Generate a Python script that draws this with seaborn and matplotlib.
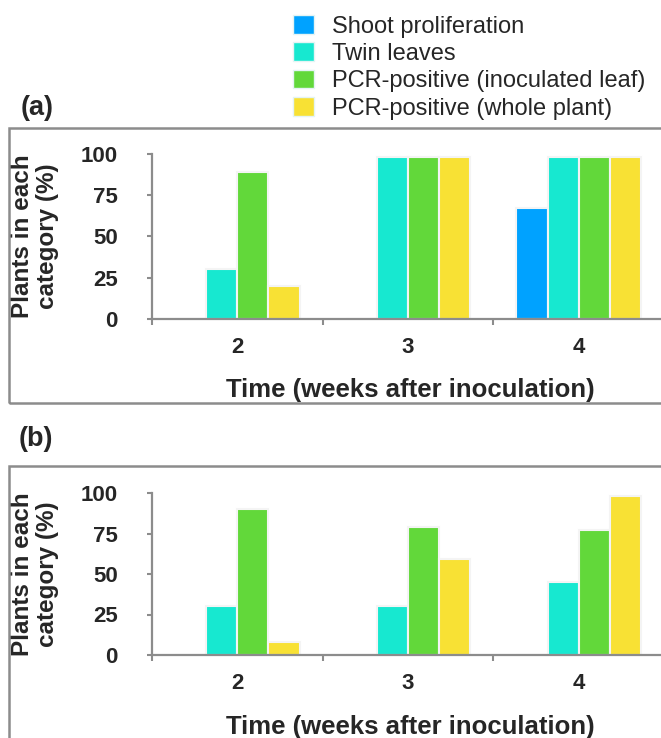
import pandas as pd
import seaborn as sns
import matplotlib.pyplot as plt
from matplotlib.patches import Patch, Rectangle

# data
weeks = ['2', '3', '4']
categories = ['Shoot proliferation', 'Twin leaves',
              'PCR-positive (inoculated leaf)', 'PCR-positive (whole plant)']
colors = ['#00a2ff', '#17e8d0', '#62d83a', '#f8e134']

# panel (a)
a_shoot = [0, 0, 67]
a_twin = [30, 98, 98]
a_pcr_leaf = [89, 98, 98]
a_pcr_plant = [20, 98, 98]

# panel (b)
b_shoot = [0, 0, 0]
b_twin = [30, 30, 45]
b_pcr_leaf = [90, 79, 77]
b_pcr_plant = [8, 59, 98]


def to_long(series):
    rows = []
    for cat, vals in zip(categories, series):
        for w, v in zip(weeks, vals):
            rows.append({'week': w, 'category': cat, 'pct': v})
    return pd.DataFrame(rows)


df_a = to_long([a_shoot, a_twin, a_pcr_leaf, a_pcr_plant])
df_b = to_long([b_shoot, b_twin, b_pcr_leaf, b_pcr_plant])

sns.set_theme(style='white')
plt.rcParams['font.family'] = ['Liberation Sans', 'DejaVu Sans']

W, H = 661, 738
fig = plt.figure(figsize=(W / 100, H / 100), dpi=100)
ax_a = fig.add_axes([152 / W, 1 - 319 / H, 512 / W, 165 / H])
ax_b = fig.add_axes([152 / W, 1 - 655 / H, 512 / W, 162 / H])

pal = dict(zip(categories, colors))
grey = '#8c8c8c'

for ax, df, xl_y in [(ax_a, df_a, -0.355), (ax_b, df_b, -0.37)]:
    sns.barplot(data=df, x='week', y='pct', hue='category', order=weeks,
                hue_order=categories, palette=pal, saturation=1, width=0.73,
                edgecolor='#f4f4f4', linewidth=1.5, errorbar=None,
                legend=False, ax=ax)
    ax.set_ylim(0, 100)
    ax.set_xlim(-0.5, 2.5)
    ax.set_yticks([0, 25, 50, 75, 100])
    ax.set_yticklabels(['0', '25', '50', '75', '100'], fontweight='bold')
    ax.set_xticks([0, 1, 2])
    ax.set_xticklabels(weeks, fontweight='bold')
    ax.set_xticks([-0.5, 0.5, 1.5, 2.5], minor=True)
    ax.tick_params(axis='y', left=True, length=3.6, width=1.5, color=grey,
                   pad=21, labelsize=16)
    ax.tick_params(axis='x', which='major', bottom=True, length=0, pad=13,
                   labelsize=16)
    ax.tick_params(axis='x', which='minor', bottom=True, length=4.3,
                   width=1.5, color=grey)
    for s in ['top', 'right']:
        ax.spines[s].set_visible(False)
    for s in ['left', 'bottom']:
        ax.spines[s].set_color(grey)
        ax.spines[s].set_linewidth(1.6)
    ax.set_xlabel('Time (weeks after inoculation)', fontsize=18.5,
                  fontweight='bold')
    ax.xaxis.set_label_coords(0.504, xl_y)
    ax.set_ylabel('Plants in each\ncategory (%)', fontsize=17.5,
                  fontweight='bold', linespacing=1.1, va='center')
    ax.yaxis.set_label_coords(-0.2285, 0.5)

# panel boxes
fig.add_artist(Rectangle((9 / W, 1 - 403 / H), 700 / W, 275 / H,
                         transform=fig.transFigure, fill=False,
                         edgecolor=grey, linewidth=1.8))
fig.add_artist(Rectangle((9 / W, -0.1), 700 / W, 1 - 466 / H + 0.1,
                         transform=fig.transFigure, fill=False,
                         edgecolor=grey, linewidth=1.8))

fig.text(21 / W, 1 - 108 / H, '(a)', fontsize=19.5, fontweight='bold',
         ha='left', va='center')
fig.text(19 / W, 1 - 439 / H, '(b)', fontsize=19.5, fontweight='bold',
         ha='left', va='center')

handles = [Patch(facecolor=c, edgecolor='#e4f4f4', linewidth=1) for c in colors]
fig.legend(handles, categories, loc='upper left',
           bbox_to_anchor=(293 / W, 1 - 15 / H), frameon=False,
           fontsize=17, handlelength=0.89, handleheight=0.85,
           handletextpad=0.75, labelspacing=0.2, borderpad=0,
           borderaxespad=0)

fig.savefig('out.png', dpi=100)
